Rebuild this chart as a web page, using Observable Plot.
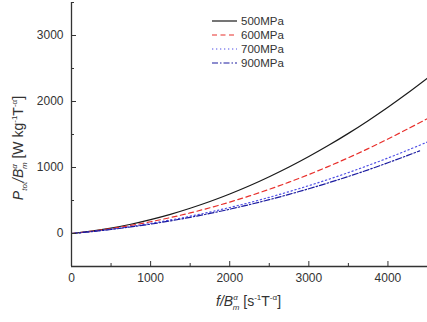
<!DOCTYPE html>
<html><head><meta charset="utf-8">
<script src="https://cdn.jsdelivr.net/npm/d3@7"></script>
<script src="https://cdn.jsdelivr.net/npm/@observablehq/plot@0.6"></script>
<style>body{margin:0;background:#fff}#chart{width:427px;height:322px}</style>
</head><body><div id="chart"></div>
<script>
// data
const seriesNames = ["500MPa", "600MPa", "700MPa", "900MPa"];
const fValues = [0,250,500,750,1000,1250,1500,1750,2000,2250,2500,2750,3000,3250,3500,3750,4000,4250,4500];
const fValues900 = [0,250,500,750,1000,1250,1500,1750,2000,2250,2500,2750,3000,3250,3500,3750,4000,4250,4400];
const p500 = [0,36,82,140,210,290,382,484,598,723,860,1007,1166,1336,1517,1710,1913,2128,2354];
const p600 = [0,33,74,122,178,241,312,390,476,569,670,778,894,1017,1148,1286,1432,1585,1740];
const p700 = [0,30,65,106,153,205,262,325,394,468,548,634,725,821,923,1031,1144,1263,1387];
const p900 = [0,28,61,99,142,191,245,304,368,438,513,593,678,769,864,965,1072,1183,1252];
const xMajorTicks = [0,1000,2000,3000,4000];
const xMinorTicks = [500,1500,2500,3500,4500];
const yMajorTicks = [0,1000,2000,3000];
const yMinorTicks = [-500,500,1500,2500,3500];

const colors = ["#1a1a1a", "#e8302c", "#5050e6", "#1c1ca0"];
const dashes = [null, "5,3.5", "1.3,2.7", "6,2,1.5,2"];
const xs = [fValues, fValues, fValues, fValues900];
const ys = [p500, p600, p700, p900];

const lineMarks = seriesNames.map((name, i) =>
  Plot.line(xs[i].map((f, j) => ({f, p: ys[i][j]})), {
    x: "f", y: "p", stroke: colors[i], strokeWidth: 1.2,
    strokeDasharray: dashes[i], curve: "catmull-rom", clip: true
  })
);

const plot = Plot.plot({
  width: 427, height: 322,
  marginLeft: 71, marginRight: 0, marginTop: 2, marginBottom: 56,
  x: {domain: [0, 4500]},
  y: {domain: [-500, 3500]},
  style: {fontFamily: "'Liberation Sans', Arial, sans-serif", fontSize: "12px", color: "#333", background: "#fff"},
  marks: [
    ...lineMarks,
    Plot.ruleY([-500], {stroke: "#333", strokeWidth: 1.3}),
    Plot.ruleX([0], {stroke: "#333", strokeWidth: 1.3}),
    Plot.axisX({ticks: xMajorTicks, tickSize: -5, fill: "none", label: null, stroke: "#333"}),
    Plot.axisX({ticks: xMinorTicks, tickSize: -3, fill: "none", label: null, stroke: "#333"}),
    Plot.axisX({ticks: xMajorTicks, tickSize: 0, tickPadding: 7, label: null, tickFormat: d => String(d), fill: "#333"}),
    Plot.axisY({ticks: yMajorTicks, tickSize: -5, fill: "none", label: null, stroke: "#333"}),
    Plot.axisY({ticks: yMinorTicks, tickSize: -3, fill: "none", label: null, stroke: "#333"}),
    Plot.axisY({ticks: yMajorTicks, tickSize: 0, tickPadding: 8, label: null, tickFormat: d => String(d), fill: "#333"})
  ]
});
document.getElementById("chart").appendChild(plot);

const svg = d3.select(plot);
// legend
const lg = svg.append("g").attr("font-family", "'Liberation Sans', Arial, sans-serif")
  .attr("font-size", 11.5).attr("fill", "#333").attr("text-anchor", "start");
seriesNames.forEach((name, i) => {
  const yy = 21 + i * 14;
  lg.append("line").attr("x1", 212).attr("x2", 237).attr("y1", yy).attr("y2", yy)
    .attr("stroke", colors[i]).attr("stroke-width", 1.2)
    .attr("stroke-dasharray", dashes[i]);
  lg.append("text").attr("x", 241).attr("y", yy).attr("dy", "0.35em").text(name);
});

// x axis label: f/B_m^α [s^-1 T^-α]
const xl = svg.append("text").attr("x", 216).attr("y", 306).attr("text-anchor", "start")
  .attr("font-family", "'Liberation Sans', Arial, sans-serif").attr("font-size", 14).attr("fill", "#333");
xl.append("tspan").attr("font-style", "italic").text("f/B");
xl.append("tspan").attr("font-size", 8).attr("font-style", "italic").attr("dy", -6).text("α");
xl.append("tspan").attr("font-size", 8).attr("font-style", "italic").attr("dx", -5).attr("dy", 10).text("m");
xl.append("tspan").attr("dy", -4).text(" [s");
xl.append("tspan").attr("font-size", 8).attr("dy", -6).text("-1");
xl.append("tspan").attr("dy", 6).text("T");
xl.append("tspan").attr("font-size", 8).attr("dy", -6).text("-α");
xl.append("tspan").attr("dy", 6).text("]");

// y axis label: P_tot/B_m^α [W kg^-1 T^-α]
const yl = svg.append("text").attr("transform", "translate(23,148) rotate(-90)").attr("text-anchor", "middle")
  .attr("font-family", "'Liberation Sans', Arial, sans-serif").attr("font-size", 14).attr("fill", "#333");
yl.append("tspan").attr("font-style", "italic").text("P");
yl.append("tspan").attr("font-size", 8).attr("font-style", "italic").attr("dy", 4).text("tot");
yl.append("tspan").attr("font-style", "italic").attr("dy", -4).text("/B");
yl.append("tspan").attr("font-size", 8).attr("font-style", "italic").attr("dy", -6).text("α");
yl.append("tspan").attr("font-size", 8).attr("font-style", "italic").attr("dx", -5).attr("dy", 10).text("m");
yl.append("tspan").attr("dy", -4).text(" [W kg");
yl.append("tspan").attr("font-size", 8).attr("dy", -6).text("-1");
yl.append("tspan").attr("dy", 6).text("T");
yl.append("tspan").attr("font-size", 8).attr("dy", -6).text("-α");
yl.append("tspan").attr("dy", 6).text("]");
</script>
</body></html>
